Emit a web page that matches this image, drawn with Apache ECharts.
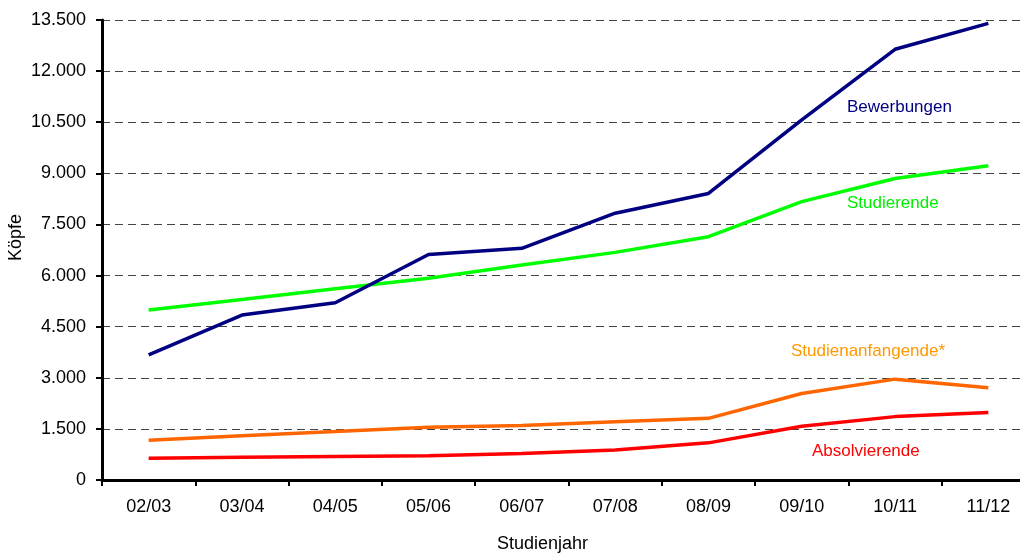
<!DOCTYPE html>
<html>
<head>
<meta charset="utf-8">
<script src="https://cdn.jsdelivr.net/npm/echarts@6/dist/echarts.min.js"></script>
<style>
  html, body { margin: 0; padding: 0; background: #fff; }
  #chart { width: 1020px; height: 555px; }
</style>
</head>
<body>
<div id="chart"></div>
<script>
// Studienjahre
const years = ['02/03', '03/04', '04/05', '05/06', '06/07', '07/08', '08/09', '09/10', '10/11', '11/12']

// Werte (Köpfe)
const bewerbungen = [3670, 4840, 5200, 6620, 6800, 7830, 8410, 10570, 12640, 13400]
const studierende = [4990, 5300, 5610, 5920, 6310, 6680, 7140, 8170, 8850, 9220]
const studienanfangende = [1170, 1300, 1420, 1550, 1600, 1710, 1810, 2540, 2960, 2710]
const absolvierende = [640, 665, 690, 710, 780, 880, 1090, 1580, 1860, 1980]

const yMax = 13500
const yStep = 1500

const font = 'Arial, "Liberation Sans", sans-serif'

function fmt(v) {
  return String(v).replace(/\B(?=(\d{3})+(?!\d))/g, '.')
}

function lineSeries(name, data, color) {
  return {
    name: name,
    type: 'line',
    data: data,
    symbol: 'none',
    lineStyle: { color: color, width: 3.5 },
    itemStyle: { color: color },
    silent: true
  }
}

const chart = echarts.init(document.getElementById('chart'), null, { renderer: 'canvas' })

chart.setOption({
  animation: false,
  backgroundColor: '#fff',
  grid: {
    left: 102,
    top: 20,
    bottom: 75,
    right: -15,
    outerBoundsMode: 'none'
  },
  xAxis: {
    type: 'category',
    data: years,
    boundaryGap: true,
    axisLine: { lineStyle: { color: '#000', width: 3 } },
    axisTick: { show: true, length: 6, lineStyle: { color: '#000', width: 2 } },
    axisLabel: { color: '#000', fontFamily: font, fontSize: 18, margin: 18 }
  },
  yAxis: {
    type: 'value',
    min: 0,
    max: yMax,
    interval: yStep,
    axisLine: { show: true, lineStyle: { color: '#000', width: 3 } },
    axisTick: { show: true, length: 6, lineStyle: { color: '#000', width: 2 } },
    axisLabel: { color: '#000', fontFamily: font, fontSize: 18, margin: 16, formatter: fmt },
    splitLine: { show: true, lineStyle: { color: '#444', width: 1, type: [8, 5] } }
  },
  series: [
    lineSeries('Absolvierende', absolvierende, '#ff0000'),
    lineSeries('Studienanfangende*', studienanfangende, '#ff6600'),
    lineSeries('Studierende', studierende, '#00ff00'),
    lineSeries('Bewerbungen', bewerbungen, '#000080')
  ],
  graphic: [
    { type: 'text', left: 847, top: 99, style: { text: 'Bewerbungen', fill: '#000080', font: '17px ' + font } },
    { type: 'text', left: 847, top: 195, style: { text: 'Studierende', fill: '#00ee00', font: '17px ' + font } },
    { type: 'text', left: 791, top: 343, style: { text: 'Studienanfangende*', fill: '#ff9900', font: '17px ' + font } },
    { type: 'text', left: 812, top: 443, style: { text: 'Absolvierende', fill: '#ff0000', font: '17px ' + font } },
    { type: 'text', left: 497, top: 535, style: { text: 'Studienjahr', fill: '#000', font: '18px ' + font } },
    { type: 'text', left: 7, top: 214, rotation: Math.PI / 2, style: { text: 'Köpfe', fill: '#000', font: '18px ' + font } }
  ]
})
</script>
</body>
</html>
